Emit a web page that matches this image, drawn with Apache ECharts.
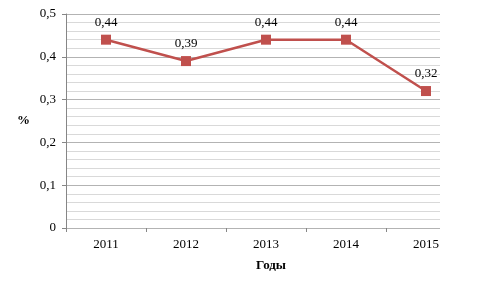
<!DOCTYPE html>
<html><head><meta charset="utf-8">
<script src="https://cdn.jsdelivr.net/npm/echarts@6/dist/echarts.min.js"></script>
<style>html,body{margin:0;padding:0;background:#fff}#c{width:480px;height:288px}</style>
</head><body><div id="c"></div>
<script>
var years = [2011, 2012, 2013, 2014, 2015];
var values = [0.44, 0.39, 0.44, 0.44, 0.32];
var yTicks = [0, 0.1, 0.2, 0.3, 0.4, 0.5];
var xName = 'Годы';
var yName = '%';

var fmt = function (v) { return String(+v.toFixed(2)).replace('.', ','); };
var serif = '"Liberation Serif", "Times New Roman", serif';
var chart = echarts.init(document.getElementById('c'));
var boundaries = [years[0] - 0.5].concat(years.slice(0, -1).map(function (y) { return y + 0.5; }));
chart.setOption({
  animation: false,
  textStyle: { fontFamily: serif },
  grid: { left: 66, right: 40, top: 14, bottom: 60 },
  title: {
    text: xName, left: 266, top: 254, textAlign: 'center',
    textStyle: { fontFamily: serif, fontSize: 13, fontWeight: 'bold', color: '#000' }
  },
  xAxis: {
    type: 'value', min: years[0] - 0.5, max: years[0] - 0.5 + 374 / 80,
    axisLine: { show: false },
    splitLine: { show: false },
    axisTick: { show: true, customValues: boundaries, length: 4, lineStyle: { color: '#868686' } },
    axisLabel: { customValues: years, margin: 10, color: '#000', fontSize: 13, fontFamily: serif,
      formatter: function (v) { return String(v); } }
  },
  yAxis: {
    type: 'value', min: yTicks[0], max: yTicks[yTicks.length - 1], interval: 0.1,
    name: yName, nameLocation: 'middle', nameRotate: 0, nameGap: 36,
    nameTextStyle: { fontFamily: serif, fontSize: 13, fontWeight: 'bold', color: '#000', padding: [4, 0, 0, 0] },
    axisLine: { show: true, lineStyle: { color: '#868686' } },
    axisTick: { show: true, length: 4, lineStyle: { color: '#868686' } },
    minorTick: { show: false, splitNumber: 5 },
    minorSplitLine: { show: true, lineStyle: { color: '#d9d9d9', width: 1 } },
    splitLine: { show: true, lineStyle: { color: '#b3b3b3', width: 1 } },
    axisLabel: { color: '#000', fontSize: 13, fontFamily: serif, margin: 10, formatter: fmt }
  },
  series: [{
    type: 'line',
    data: years.map(function (y, i) { return [y, values[i]]; }),
    symbol: 'rect', symbolSize: 10,
    lineStyle: { color: '#c0504d', width: 2.5 },
    itemStyle: { color: '#c0504d' },
    label: { show: true, position: 'top', distance: 6, color: '#000', fontSize: 13, fontFamily: serif,
      formatter: function (p) { return fmt(p.value[1]); } }
  }]
});
</script></body></html>
